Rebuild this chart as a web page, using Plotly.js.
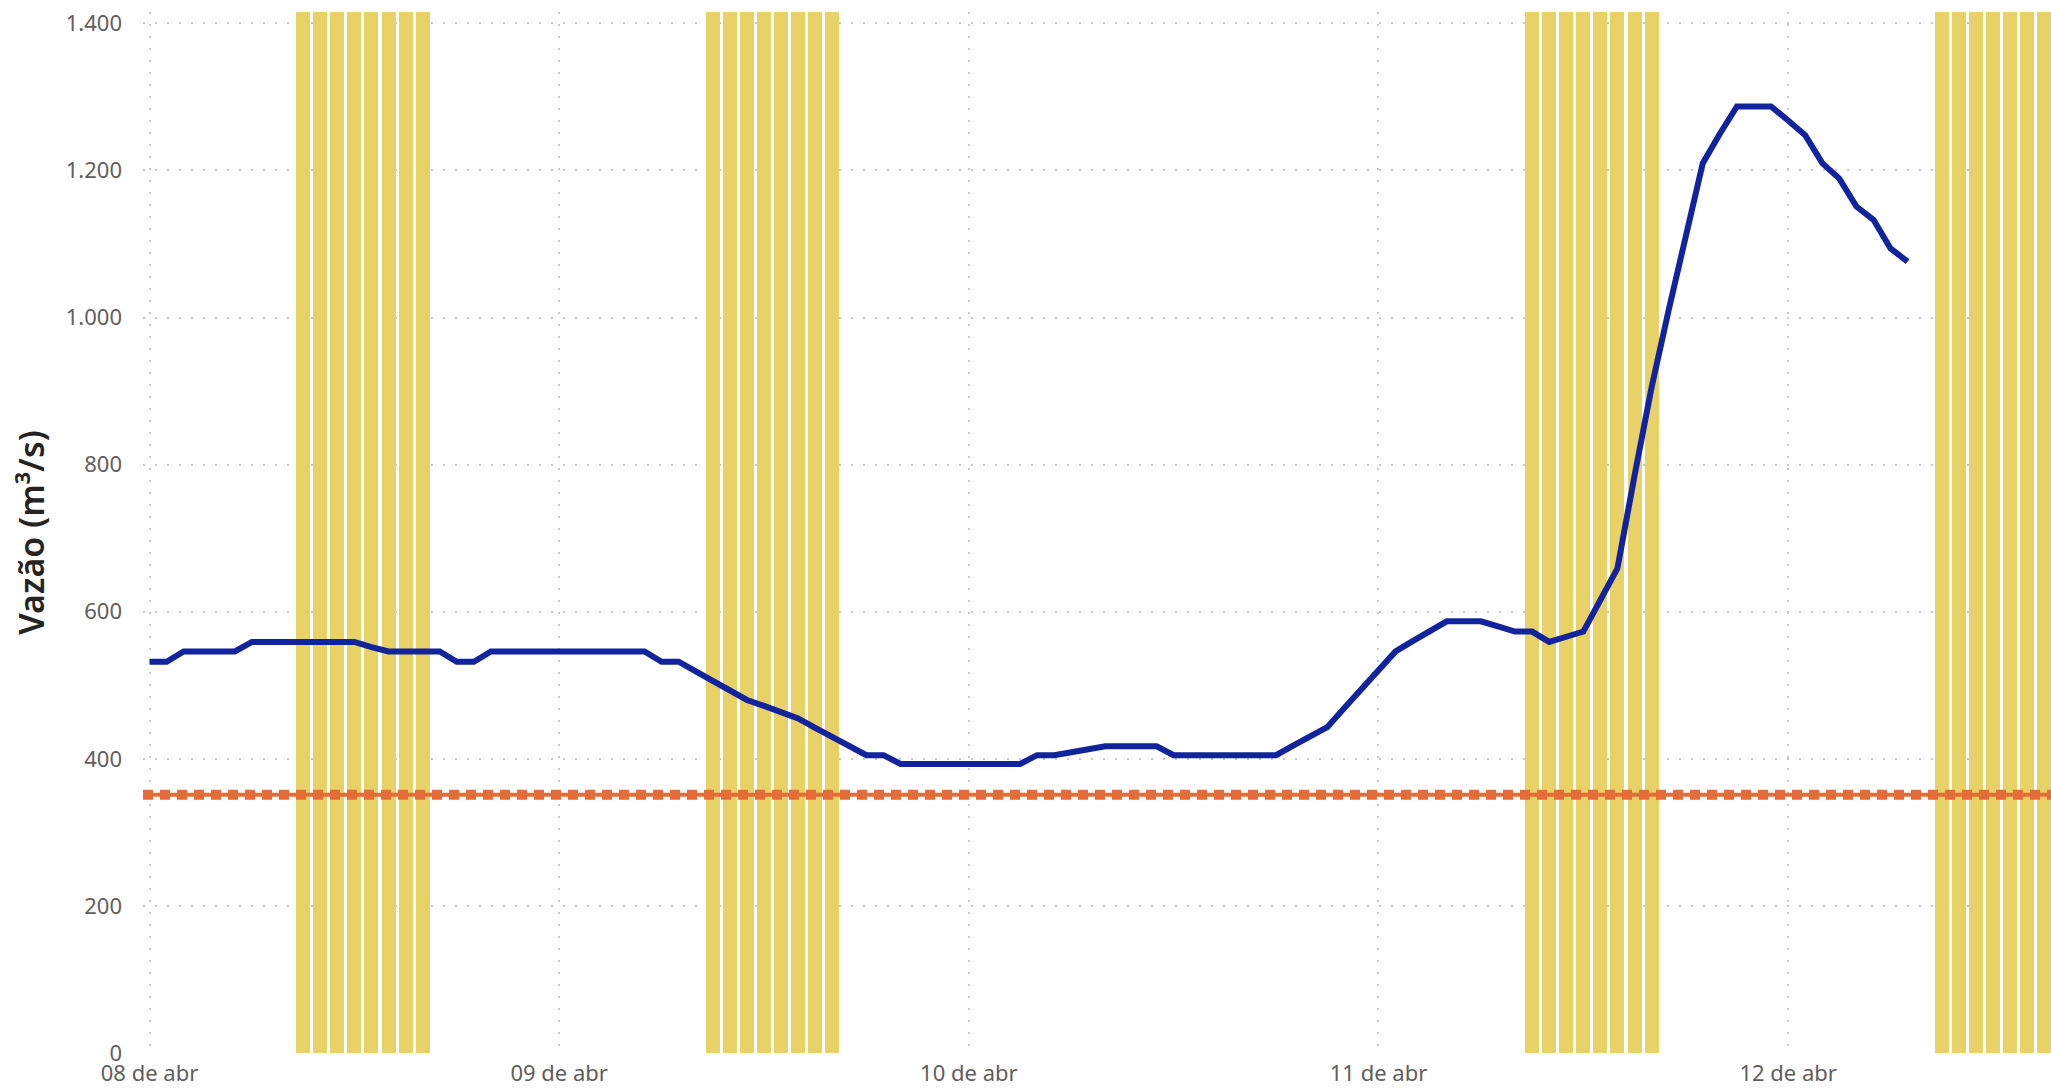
<!DOCTYPE html>
<html>
<head>
<meta charset="utf-8">
<script src="https://cdn.plot.ly/plotly-3.0.1.min.js"></script>
<style>
  html, body { margin: 0; padding: 0; background: #ffffff; }
  #chart { width: 2051px; height: 1088px; }
</style>
</head>
<body>
<div id="chart"></div>
<script>
// ---------- data ----------
// hourly flow values starting 08 abr 00:00
const flowStartDay = 8;
const flowValues = [
  532, 532, 546, 546, 546, 546, 559, 559, 559, 559, 559, 559, 559, 552, 546, 546,
  546, 546, 532, 532, 546, 546, 546, 546, 546, 546, 546, 546, 546, 546, 532, 532,
  519, 506, 493, 480, 472, 463, 455, 442, 430, 417, 405, 405, 393, 393, 393, 393,
  393, 393, 393, 393, 405, 405, 409, 413, 417, 417, 417, 417, 405, 405, 405, 405,
  405, 405, 405, 418, 430, 443, 469, 494, 520, 546, 560, 574, 587, 587, 587, 580,
  573, 573, 559, 566, 573, 616, 659, 785, 905, 1010, 1110, 1210, 1250, 1287, 1287, 1287,
  1268, 1248, 1210, 1189, 1151, 1133, 1094, 1076
];
const limitValue = 351;
const barDays = ['2024-04-08', '2024-04-09', '2024-04-11', '2024-04-12'];
const barHours = [9, 10, 11, 12, 13, 14, 15, 16];
const barFlag = 1;
const tickDates = ['2024-04-08', '2024-04-09', '2024-04-10', '2024-04-11', '2024-04-12'];
const tickLabels = ['08 de abr', '09 de abr', '10 de abr', '11 de abr', '12 de abr'];
const yTicks = [0, 200, 400, 600, 800, 1000, 1200, 1400];
const xRange = ['2024-04-07 23:37', '2024-04-12 15:24'];
const yMax = 1415.5;

// ---------- build ----------
const pad = n => String(n).padStart(2, '0');
const flowTimes = flowValues.map((v, i) =>
  '2024-04-' + pad(flowStartDay + Math.floor(i / 24)) + ' ' + pad(i % 24) + ':00');

const barX = [], barY = [];
barDays.forEach(d => barHours.forEach(h => { barX.push(d + ' ' + pad(h) + ':00'); barY.push(barFlag); }));

const FONT = 'Noto Sans, Open Sans, sans-serif';
const GRID = { showgrid: true, gridcolor: '#C8C8C8', gridwidth: 2, griddash: '2px,10px' };

const traces = [
  { type: 'bar', x: barX, y: barY, xaxis: 'x', yaxis: 'y',
    width: 0.82 * 3600000, marker: { color: '#E8D166', line: { width: 0 } },
    hoverinfo: 'skip', showlegend: false },
  { type: 'scatter', mode: 'lines', x: xRange, y: [limitValue, limitValue], yaxis: 'y2',
    line: { color: '#E66C37', width: 4 }, hoverinfo: 'skip', showlegend: false },
  { type: 'scatter', mode: 'lines', x: xRange, y: [limitValue, limitValue], yaxis: 'y2',
    line: { color: '#E66C37', width: 10, dash: '10px,7px' }, hoverinfo: 'skip', showlegend: false },
  { type: 'scatter', mode: 'lines', x: flowTimes, y: flowValues, yaxis: 'y2',
    line: { color: '#12239E', width: 6, shape: 'linear' }, showlegend: false }
];

const layout = {
  width: 2051, height: 1088,
  margin: { l: 143, r: 0, t: 12, b: 35, pad: 0 },
  paper_bgcolor: '#ffffff', plot_bgcolor: '#ffffff',
  separators: ',.',
  bargap: 0,
  showlegend: false,
  font: { family: FONT, color: '#605E5C', size: 22 },
  xaxis: Object.assign({
    type: 'date', range: xRange, tickmode: 'array', tickvals: tickDates, ticktext: tickLabels,
    ticks: '', showline: false, zeroline: false, ticklabelstandoff: 5,
    tickfont: { family: FONT, size: 22, color: '#605E5C' }
  }, GRID),
  yaxis: { range: [0, barFlag], visible: false, showgrid: false, zeroline: false, fixedrange: true },
  yaxis2: Object.assign({
    overlaying: 'y', side: 'left', range: [0, yMax], tickmode: 'array', tickvals: yTicks,
    tickformat: ',d', ticks: '', showline: false, zeroline: false, ticklabelstandoff: 20,
    tickfont: { family: FONT, size: 22, color: '#605E5C' },
    title: { text: 'Vazão (m³/s)', standoff: 10,
      font: { family: FONT, size: 34, color: '#252423', weight: 600 } }
  }, GRID)
};

Plotly.newPlot('chart', traces, layout, { displayModeBar: false, staticPlot: true });
</script>
</body>
</html>
